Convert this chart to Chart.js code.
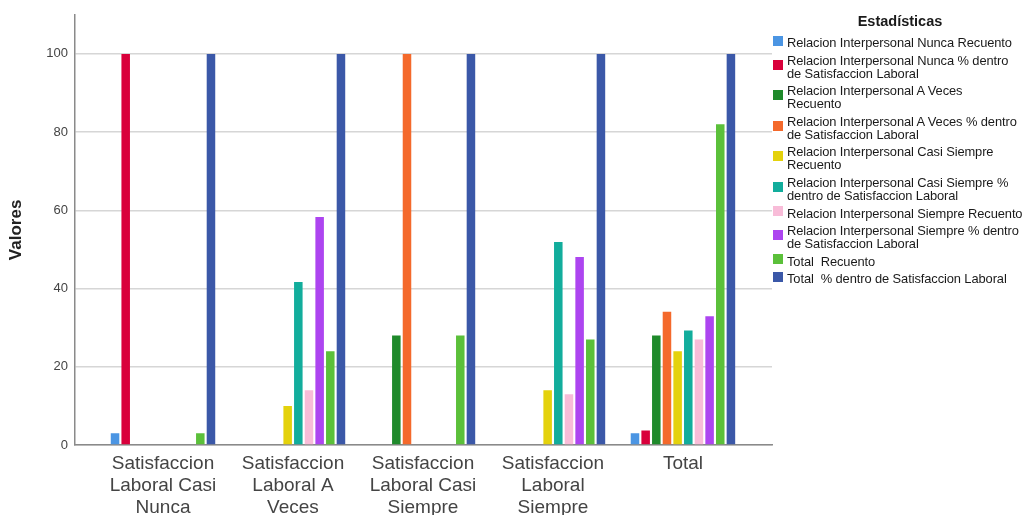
<!DOCTYPE html>
<html lang="es">
<head>
<meta charset="utf-8">
<title>Estadísticas</title>
<script src="https://cdn.jsdelivr.net/npm/chart.js@4"></script>
<style>
  html, body { margin: 0; padding: 0; background: #fff; }
  #wrap { position: relative; width: 1030px; height: 515px; overflow: hidden; }
  #legend {
    position: absolute; left: 770px; top: 0; width: 260px;
    font-family: "Liberation Sans", Arial, sans-serif; color: #1a1a1a;
  }
  #legend .title {
    text-align: center; font-weight: bold; font-size: 14.5px;
    line-height: 17px; margin-top: 13px; margin-bottom: 6px; color: #1a1a1a;
  }
  #legend ul { list-style: none; margin: 0; padding: 0; }
  #legend li {
    display: flex; align-items: center; margin-bottom: 4.6px;
  }
  #legend .sw {
    flex: 0 0 auto; width: 10px; height: 10px; margin: 0 4px 0 3px;
    transform: translateY(-2px);
  }
  #legend .txt { font-size: 12.9px; line-height: 13px; white-space: pre; letter-spacing: -0.1px; }
</style>
</head>
<body>
<div id="wrap">
  <canvas id="chart" width="1030" height="515"></canvas>
  <div id="legend"></div>
</div>
<script>
// Categories on the x axis (one label line per array entry)
const categorias = [
  ["Satisfaccion", "Laboral Casi", "Nunca"],
  ["Satisfaccion", "Laboral A", "Veces"],
  ["Satisfaccion", "Laboral Casi", "Siempre"],
  ["Satisfaccion", "Laboral", "Siempre"],
  ["Total"]
];

// Y tick values shown on the axis
const ticksY = [0, 20, 40, 60, 80, 100];

// Series values per category (null = no bar)
const nuncaRecuento        = [3, null, null, null, 3];
const nuncaPorcentaje      = [100, null, null, null, 3.7];
const aVecesRecuento       = [null, null, 28, null, 28];
const aVecesPorcentaje     = [null, null, 100, null, 34.1];
const casiSiempreRecuento  = [null, 10, null, 14, 24];
const casiSiemprePorcent   = [null, 41.7, null, 51.9, 29.3];
const siempreRecuento      = [null, 14, null, 13, 27];
const siemprePorcentaje    = [null, 58.3, null, 48.1, 32.9];
const totalRecuento        = [3, 24, 28, 27, 82];
const totalPorcentaje      = [100, 100, 100, 100, 100];

// Series names as listed in the legend
const nombres = [
  "Relacion Interpersonal Nunca Recuento",
  "Relacion Interpersonal Nunca % dentro\nde Satisfaccion Laboral",
  "Relacion Interpersonal A Veces\nRecuento",
  "Relacion Interpersonal A Veces % dentro\nde Satisfaccion Laboral",
  "Relacion Interpersonal Casi Siempre\nRecuento",
  "Relacion Interpersonal Casi Siempre %\ndentro de Satisfaccion Laboral",
  "Relacion Interpersonal Siempre Recuento",
  "Relacion Interpersonal Siempre % dentro\nde Satisfaccion Laboral",
  "Total  Recuento",
  "Total  % dentro de Satisfaccion Laboral"
];

const colores = [
  "#4b95e3", "#d9003b", "#1f8a2b", "#f4692b", "#e4d20c",
  "#12ad9c", "#f8bcd8", "#ad45f0", "#5bc03a", "#3b58a8"
];

const series = [
  nuncaRecuento, nuncaPorcentaje, aVecesRecuento, aVecesPorcentaje,
  casiSiempreRecuento, casiSiemprePorcent, siempreRecuento, siemprePorcentaje,
  totalRecuento, totalPorcentaje
];

const datasets = series.map((vals, s) => ({
  label: nombres[s],
  data: vals.map((v, i) => ({ x: i, y: v })),
  backgroundColor: colores[s],
  borderWidth: 0,
  categoryPercentage: 0.82,
  barPercentage: 0.8
}));

// HTML legend built from the chart's own legend items
const htmlLegend = {
  id: "htmlLegend",
  afterUpdate(chart) {
    const box = document.getElementById("legend");
    box.innerHTML = "";
    const title = document.createElement("div");
    title.className = "title";
    title.textContent = "Estadísticas";
    box.appendChild(title);
    const ul = document.createElement("ul");
    const items = chart.options.plugins.legend.labels.generateLabels(chart);
    items.forEach(item => {
      const li = document.createElement("li");
      const sw = document.createElement("span");
      sw.className = "sw";
      sw.style.background = item.fillStyle;
      const tx = document.createElement("span");
      tx.className = "txt";
      tx.textContent = item.text;
      li.appendChild(sw);
      li.appendChild(tx);
      ul.appendChild(li);
    });
    box.appendChild(ul);
  }
};

const fuente = "'Liberation Sans', Arial, sans-serif";

new Chart(document.getElementById("chart"), {
  type: "bar",
  data: { datasets },
  plugins: [htmlLegend],
  options: {
    responsive: false,
    animation: false,
    layout: { padding: { top: 13, right: 258, left: 0, bottom: 0 } },
    plugins: {
      legend: { display: false },
      tooltip: { enabled: true }
    },
    scales: {
      x: {
        type: "linear",
        offset: false,
        min: -0.677,
        max: 4.685,
        grid: { display: false, drawTicks: false },
        border: { display: true, color: "#8a8a8a", width: 1.5 },
        afterBuildTicks(scale) {
          scale.ticks = categorias.map((_, i) => ({ value: i }));
        },
        afterFit(scale) { scale.height = 70; },
        ticks: {
          autoSkip: false,
          maxRotation: 0,
          padding: 8,
          color: "#444",
          font: { family: fuente, size: 19, lineHeight: 1.16 },
          callback: (value) => categorias[value]
        }
      },
      y: {
        min: 0,
        max: 110,
        afterBuildTicks(scale) {
          scale.ticks = ticksY.map(v => ({ value: v }));
        },
        afterFit(scale) { scale.width = 75; },
        grid: { color: "#d6d6d6", lineWidth: 1.5, drawTicks: false },
        border: { display: true, color: "#8a8a8a", width: 1.5 },
        ticks: {
          padding: 7,
          color: "#444",
          font: { family: fuente, size: 13 }
        },
        title: {
          display: true,
          text: "Valores",
          color: "#222",
          padding: { top: 6, bottom: 0 },
          font: { family: fuente, size: 17, weight: "bold" }
        }
      }
    }
  }
});
</script>
</body>
</html>
